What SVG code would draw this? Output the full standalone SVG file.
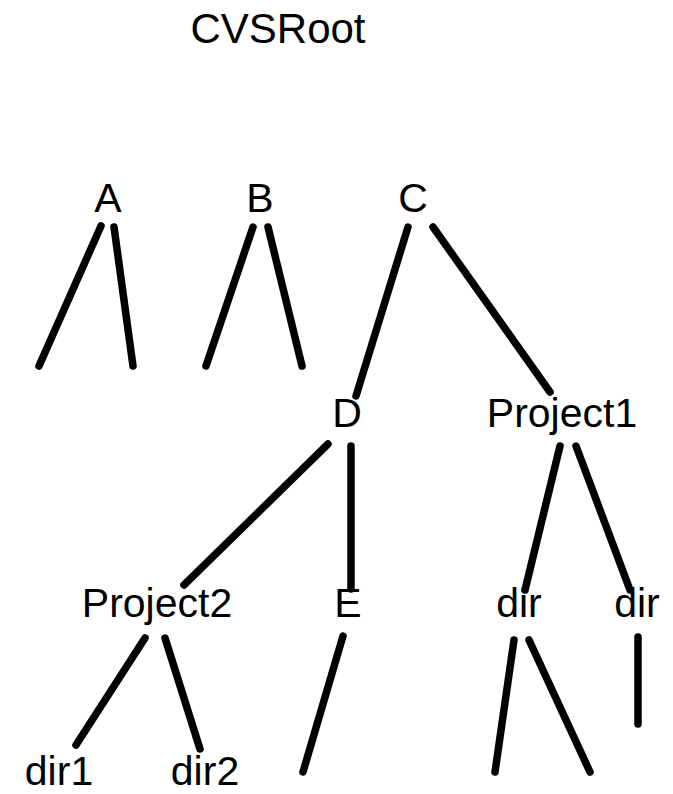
<svg xmlns="http://www.w3.org/2000/svg" width="673" height="794" viewBox="0 0 673 794">
<style>
text{font-family:"Liberation Sans",Arial,sans-serif;font-size:41px;fill:#000;text-anchor:middle}
.t{font-size:42px}
.c line{stroke:#000;stroke-width:7.5;stroke-linecap:round}
</style>
<rect width="673" height="794" fill="#fff"/>
<g id="root"><text class="t" x="278" y="43">CVSRoot</text></g>
<g id="A"><text x="108" y="212">A</text></g>
<g id="B"><text x="260" y="212">B</text></g>
<g id="C"><text x="413" y="212">C</text></g>
<g id="D"><text x="347" y="427">D</text></g>
<g id="Project1"><text x="562" y="427">Project1</text></g>
<g id="Project2"><text x="157" y="617">Project2</text></g>
<g id="E"><text x="348" y="617">E</text></g>
<g id="dir_a"><text x="519" y="617">dir</text></g>
<g id="dir_b"><text x="637" y="617">dir</text></g>
<g id="dir1"><text x="59" y="785">dir1</text></g>
<g id="dir2"><text x="205" y="785">dir2</text></g>
<g class="c" id="connectors">
<line x1="101" y1="226" x2="39" y2="366"/>
<line x1="114" y1="227" x2="133" y2="366"/>
<line x1="253" y1="227" x2="206" y2="366"/>
<line x1="268" y1="227" x2="302" y2="366"/>
<line x1="408" y1="227" x2="356" y2="396"/>
<line x1="433" y1="227" x2="550" y2="392"/>
<line x1="328" y1="444" x2="184" y2="585"/>
<line x1="351" y1="446" x2="351" y2="589"/>
<line x1="560" y1="446" x2="525" y2="590"/>
<line x1="576" y1="446" x2="630" y2="590"/>
<line x1="145" y1="638" x2="76" y2="745"/>
<line x1="165" y1="638" x2="200" y2="749"/>
<line x1="343" y1="636" x2="303" y2="772"/>
<line x1="514" y1="640" x2="495" y2="772"/>
<line x1="529" y1="640" x2="590" y2="772"/>
<line x1="638" y1="637" x2="638" y2="724"/>
</g>
</svg>
